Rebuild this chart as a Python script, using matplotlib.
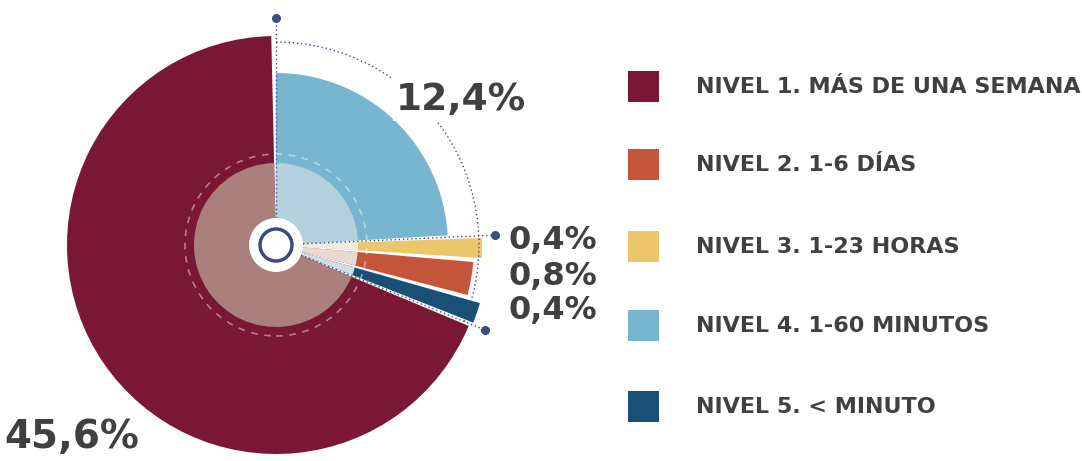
import matplotlib
matplotlib.use('Agg')
import matplotlib.pyplot as plt
from matplotlib.patches import Wedge, Circle, Arc, Rectangle
import numpy as np

# data
categories = ['NIVEL 1. MÁS DE UNA SEMANA', 'NIVEL 2. 1-6 DÍAS', 'NIVEL 3. 1-23 HORAS',
              'NIVEL 4. 1-60 MINUTOS', 'NIVEL 5. < MINUTO']
values = [45.6, 0.8, 0.4, 12.4, 0.4]
value_labels = ['45,6%', '0,8%', '0,4%', '12,4%', '0,4%']

# style
colors = ['#7a1734', '#c4553a', '#ecc66a', '#78b6cf', '#1a5075']
inner_colors = ['#a9807c', '#ead8d1', '#f1ecdd', '#b3d1dc', '#d3dce4']
radii = [209, 198, 206, 172, 212]
draw_order = [3, 2, 1, 4, 0]   # clockwise from 12 o'clock
text_col = '#404040'
dot_col = '#3f4c7e'

W, H = 1082, 461
cx, cy = 276, H - 245
gap = 1.3
power = 0.8   # angle scale: sweep ~ value**power

scaled = np.array(values) ** power
sweep = scaled / scaled.sum() * (360 - gap * len(values))

fig = plt.figure(figsize=(W / 100, H / 100), dpi=100)
ax = fig.add_axes([0, 0, 1, 1])
ax.set_xlim(0, W)
ax.set_ylim(0, H)
ax.set_aspect('equal')
ax.axis('off')

a = 90.0
ends = {}
for i in draw_order:
    t2 = a
    t1 = a - sweep[i]
    ax.add_patch(Wedge((cx, cy), radii[i], t1, t2, fc=colors[i], ec='none', zorder=2))
    ax.add_patch(Wedge((cx, cy), 82, t1, t2, fc=inner_colors[i], ec='none', zorder=3))
    ends[i] = t1 - gap / 2
    a = t1 - gap

# dashed ring
ax.add_patch(Circle((cx, cy), 91, fill=False, ec='white', alpha=0.45, lw=1.2,
                    ls=(0, (4, 4)), zorder=4))

# dotted guides
ang_top = 90.0
ang_mid = ends[3]
ang_low = ends[4]
ax.add_patch(Arc((cx, cy), 406, 406, theta1=ang_low, theta2=ang_top, color=dot_col,
                 lw=1, ls=(0, (1, 2)), zorder=5))
for ang, r_end in [(ang_top, 227), (ang_mid, 219), (ang_low, 226)]:
    t = np.deg2rad(ang)
    ax.plot([cx + 27 * np.cos(t), cx + r_end * np.cos(t)],
            [cy + 27 * np.sin(t), cy + r_end * np.sin(t)],
            color=dot_col, lw=1, ls=(0, (1, 2)), zorder=5)
    ax.plot(cx + r_end * np.cos(t), cy + r_end * np.sin(t), 'o', ms=5.5,
            color=dot_col, zorder=6)

# center
ax.add_patch(Circle((cx, cy), 27, fc='white', ec='none', zorder=7))
ax.add_patch(Circle((cx, cy), 16, fill=False, ec='#3e4a7a', lw=2.5, zorder=8))

# value labels
fnt = dict(family='DejaVu Sans', weight='bold', color=text_col)
ax.text(461, H - 100, value_labels[3], fontsize=27, ha='center', va='center',
        bbox=dict(fc='white', ec='none', pad=2), zorder=9, **fnt)
small_y = {2: 241, 1: 276, 4: 311}
for i, y in small_y.items():
    ax.text(508, H - y, value_labels[i], fontsize=23, ha='left', va='center', zorder=9, **fnt)
ax.text(4, H - 437, value_labels[0], fontsize=28, ha='left', va='center', zorder=9, **fnt)

# legend
leg_y = [87, 165, 247, 326, 407]
for i, y in enumerate(leg_y):
    ax.add_patch(Rectangle((628, H - y - 15.5), 31, 31, fc=colors[i], ec='none'))
    ax.text(696, H - y, categories[i], fontsize=16, ha='left', va='center', **fnt)

fig.savefig('out.png', dpi=100)
plt.close(fig)
